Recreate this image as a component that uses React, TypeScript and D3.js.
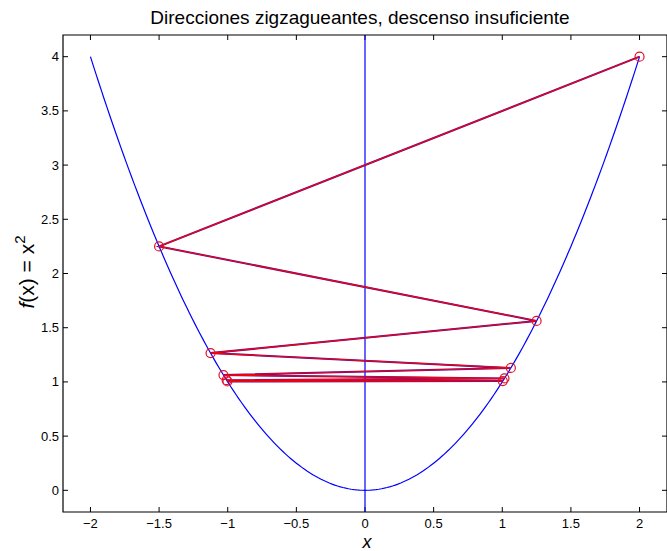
import React from "react";
import * as d3 from "d3";

const W = 667;
const H = 551;

// iterates x_k
const iterX = [2, -1.5, 1.25, -1.125, 1.0625, -1.031, 1.016, -1.008, 1.004, -1.002];
const xTicks = [-2, -1.5, -1, -0.5, 0, 0.5, 1, 1.5, 2];
const yTicks = [0, 0.5, 1, 1.5, 2, 2.5, 3, 3.5, 4];
const curveX = d3.range(-2, 2.0001, 0.02);

const App = () => {
  const margin = { top: 35, right: 0, bottom: 39, left: 63 };
  const x = d3.scaleLinear().domain([-2.2, 2.2]).range([margin.left, W - margin.right]);
  const y = d3.scaleLinear().domain([-0.2, 4.2]).range([H - margin.bottom, margin.top]);

  const f = (v: number) => v * v;
  const curve = d3
    .line<number>()
    .x((d) => x(d))
    .y((d) => y(f(d)))(curveX);
  const zig = d3
    .line<number>()
    .x((d) => x(d))
    .y((d) => y(f(d)))(iterX);

  const font = "'Liberation Sans', Arial, Helvetica, sans-serif";
  const x0 = margin.left,
    x1 = W - margin.right,
    y0 = margin.top,
    y1 = H - margin.bottom;

  return (
    <svg
      width={W}
      height={H}
      style={{ position: "absolute", left: 0, top: 0, background: "#fff" }}
      fontFamily={font}
    >
      <rect x={0} y={0} width={W} height={H} fill="#fff" />
      <text x={360} y={24} textAnchor="middle" fontSize={19}>
        Direcciones zigzagueantes, descenso insuficiente
      </text>

      {/* ticks */}
      {xTicks.map((t) => (
        <g key={"x" + t}>
          <line x1={x(t)} x2={x(t)} y1={y1} y2={y1 - 5} stroke="#000" />
          <line x1={x(t)} x2={x(t)} y1={y0} y2={y0 + 5} stroke="#000" />
          <text x={x(t)} y={y1 + 16} textAnchor="middle" fontSize={13}>
            {t < 0 ? "\u2212" + Math.abs(t) : t}
          </text>
        </g>
      ))}
      {yTicks.map((t) => (
        <g key={"y" + t}>
          <line x1={x0} x2={x0 + 5} y1={y(t)} y2={y(t)} stroke="#000" />
          <line x1={x1} x2={x1 - 5} y1={y(t)} y2={y(t)} stroke="#000" />
          <text x={x0 - 4} y={y(t) + 4.5} textAnchor="end" fontSize={13}>
            {t}
          </text>
        </g>
      ))}

      <path d={curve ?? ""} fill="none" stroke="#0000ff" strokeWidth={1.2} />
      <line x1={x(0)} x2={x(0)} y1={y0} y2={y1} stroke="#0000ff" strokeWidth={1.2} />
      <path d={zig ?? ""} fill="none" stroke="#5010a0" strokeWidth={2} />
      <path d={zig ?? ""} fill="none" stroke="#ff0000" strokeWidth={1.1} />
      {iterX.map((v, i) => (
        <circle
          key={i}
          cx={x(v)}
          cy={y(f(v))}
          r={4.5}
          fill="none"
          stroke="#e0102a"
          strokeWidth={1.2}
        />
      ))}

      <path
        d={`M${x0},${y0}H${x1}V${y1}H${x0}Z`}
        fill="none"
        stroke="#000"
        strokeWidth={1.2}
      />

      <text
        x={x(0) + 2}
        y={H - 3}
        textAnchor="middle"
        fontSize={18}
        fontStyle="italic"
      >
        x
      </text>
      <text
        transform={`translate(34,${272}) rotate(-90)`}
        textAnchor="middle"
        fontSize={21}
      >
        <tspan fontStyle="italic">f</tspan>(x) = x
        <tspan dy={-9} fontSize={15}>
          2
        </tspan>
      </text>
    </svg>
  );
};

export default App;
